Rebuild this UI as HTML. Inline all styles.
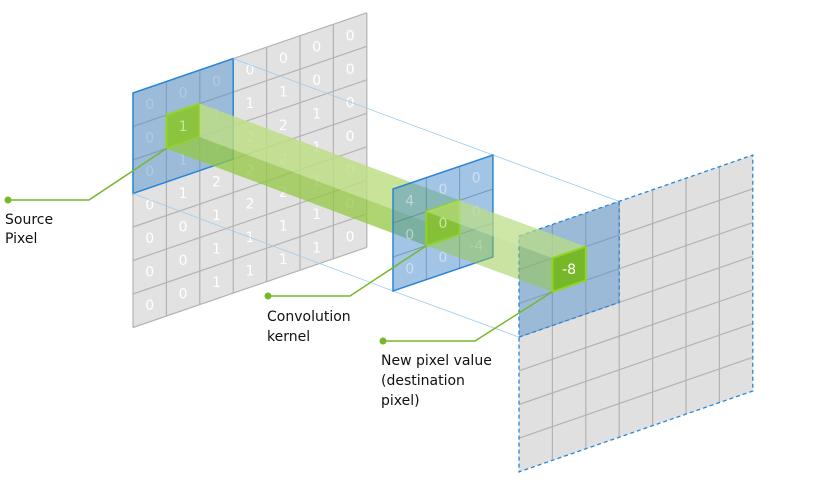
<!DOCTYPE html>
<html><head><meta charset="utf-8">
<style>
html,body{margin:0;padding:0;background:#fff;}
svg{display:block;}
.lbl{font-family:"DejaVu Sans","Liberation Sans",sans-serif;font-size:14px;fill:#111;}
.num{font-family:"DejaVu Sans","Liberation Sans",sans-serif;font-size:14px;fill:#fff;text-anchor:middle;dominant-baseline:central;}
</style></head>
<body>
<svg id="svg" width="829" height="484" viewBox="0 0 829 484" xmlns="http://www.w3.org/2000/svg">
<g id="layer"></g>
</svg>
<script>
const sourceValues = [
 [0,0,0,0,0,0,0],
 [0,1,1,1,1,0,0],
 [0,1,2,2,2,1,0],
 [0,1,2,2,2,1,0],
 [0,0,1,2,2,1,0],
 [0,0,1,1,1,1,0],
 [0,0,1,1,1,1,0]
];
const kernelValues = [
 [4,0,0],
 [0,0,0],
 [0,0,-4]
];
const destValue = -8;

const NS="http://www.w3.org/2000/svg";
const layer=document.getElementById('layer');
function el(tag,attrs,parent){const e=document.createElementNS(NS,tag);for(const k in attrs)e.setAttribute(k,attrs[k]);(parent||layer).appendChild(e);return e;}
function grid(x0,y0,w,s,h){return (c,r)=>[x0+c*w, y0+c*w*s+r*h];}
function quad(P,c0,r0,c1,r1){const a=P(c0,r0),b=P(c1,r0),c=P(c1,r1),d=P(c0,r1);return [a,b,c,d];}
function pts(arr){return arr.map(p=>p[0].toFixed(1)+','+p[1].toFixed(1)).join(' ');}

const S=grid(133,93,33.4,-0.343,33.5);
const K=grid(393,189,33.3,-0.34,34);
const D=grid(519,236,33.4,-0.346,33.7);

// Source grid
const src=el('g',{});


el('polygon',{points:pts(quad(S,0,0,7,7)),fill:'#e2e2e2'},src);
for(let i=0;i<=7;i++){const a=S(0,i),b=S(7,i);el('line',{x1:a[0],y1:a[1],x2:b[0],y2:b[1],stroke:'#b3b3b3','stroke-width':1.2},src);
 const c=S(i,0),d=S(i,7);el('line',{x1:c[0],y1:c[1],x2:d[0],y2:d[1],stroke:'#b3b3b3','stroke-width':1.2},src);}
for(let r=0;r<7;r++)for(let c=0;c<7;c++){const p=S(c+0.5,r+0.5);const t=el('text',{x:p[0],y:p[1]+1,class:'num'},src);t.textContent=sourceValues[r][c];
 }
// source blue window
const sb=el('polygon',{points:pts(quad(S,0,0,3,3)),fill:'rgba(70,140,205,0.45)',stroke:'#2a86d6','stroke-width':1.5});

const sg=el('polygon',{points:pts(quad(S,1,1,2,2)),fill:'#76b82a',stroke:'#8fd61e','stroke-width':2});

{const p=S(1.5,1.5);const t=el('text',{x:p[0],y:p[1]+1,class:'num'});t.textContent=sourceValues[1][1];}

// projection lines
function pline(a,b){el('line',{x1:a[0],y1:a[1],x2:b[0],y2:b[1],stroke:'#9ccbef','stroke-width':0.8});}
pline(S(3,0),K(3,0));pline(S(0,3),K(0,3));pline(K(3,0),D(3,0));pline(K(0,3),D(0,3));

// beam 1
const sq=quad(S,1,1,2,2), kq=quad(K,1,1,2,2), dq=quad(D,1,1,2,2);
const b1=el('g',{});
el('polygon',{points:pts([sq[0],sq[1],kq[1],kq[2],kq[3],sq[3]]),fill:'rgba(160,205,80,0.55)'},b1);
el('polygon',{points:pts([sq[1],sq[2],kq[2],kq[1]]),fill:'rgba(200,228,150,0.6)'},b1);
el('polygon',{points:pts([sq[3],sq[2],kq[2],kq[3]]),fill:'rgba(140,195,60,0.45)'},b1);

// kernel
const kg=el('g',{});
el('polygon',{points:pts(quad(K,0,0,3,3)),fill:'rgba(70,140,205,0.5)',stroke:'#2a86d6','stroke-width':1.5},kg);
for(let i=1;i<3;i++){const a=K(0,i),b=K(3,i);el('line',{x1:a[0],y1:a[1],x2:b[0],y2:b[1],stroke:'rgba(80,110,140,0.5)'},kg);
 const c=K(i,0),d=K(i,3);el('line',{x1:c[0],y1:c[1],x2:d[0],y2:d[1],stroke:'rgba(80,110,140,0.5)'},kg);}
for(let r=0;r<3;r++)for(let c=0;c<3;c++){if(r==1&&c==1)continue;const p=K(c+0.5,r+0.5);const t=el('text',{x:p[0],y:p[1]+1,class:'num','fill-opacity':0.45},kg);t.textContent=kernelValues[r][c];}
el('polygon',{points:pts(kq),fill:'#76b82a',stroke:'#8fd61e','stroke-width':2},kg);
{const p=K(1.5,1.5);const t=el('text',{x:p[0],y:p[1]+1,class:'num'},kg);t.textContent=kernelValues[1][1];}

// dest grid
const dg=el('g',{});
el('polygon',{points:pts(quad(D,0,0,7,7)),fill:'#e0e0e0'},dg);
for(let i=1;i<7;i++){const a=D(0,i),b=D(7,i);el('line',{x1:a[0],y1:a[1],x2:b[0],y2:b[1],stroke:'#b3b3b3','stroke-width':1.2},dg);
 const c=D(i,0),d=D(i,7);el('line',{x1:c[0],y1:c[1],x2:d[0],y2:d[1],stroke:'#b3b3b3','stroke-width':1.2},dg);}
el('polygon',{points:pts(quad(D,0,0,3,3)),fill:'rgba(70,140,205,0.45)'},dg);
el('polygon',{points:pts(quad(D,0,0,7,7)),fill:'none',stroke:'#2a86d6','stroke-width':1.3,'stroke-dasharray':'4,3'},dg);
el('polyline',{points:pts([D(0,3),D(3,3),D(3,0)]),fill:'none',stroke:'#2a86d6','stroke-width':1.3,'stroke-dasharray':'4,3'},dg);

// beam 2
const b2=el('polygon',{points:pts([kq[0],kq[1],dq[1],dq[2],dq[3],kq[3]]),fill:'rgba(150,200,70,0.5)'});

el('polygon',{points:pts([kq[0],kq[1],dq[1],dq[0]]),fill:'rgba(210,235,170,0.45)'});
const dgc=el('polygon',{points:pts(dq),fill:'#76b82a',stroke:'#8fd61e','stroke-width':2});

{const p=D(1.5,1.5);const t=el('text',{x:p[0],y:p[1]+1,class:'num'});t.textContent=destValue;}

// callouts
function callout(name,dot,bend,target){const g=el('g',{});
 el('polyline',{points:pts([dot,bend,target]),fill:'none',stroke:'#76b82a','stroke-width':1.5},g);
 el('circle',{cx:dot[0],cy:dot[1],r:3.5,fill:'#76b82a'},g);}
callout('source-pixel-callout',[8,200],[89,200],sq[3]);
callout('kernel-callout',[268,296],[350,296],kq[3]);
callout('destination-callout',[383,341],[475,341],dq[3]);
</script>
<svg width="0" height="0" style="position:absolute"></svg>
<div style="position:absolute;left:0;top:0;width:829px;height:484px;pointer-events:none;">
<svg width="829" height="484" style="position:absolute;left:0;top:0">
<text class="lbl" x="5" y="224"><tspan x="5">Source</tspan><tspan x="5" dy="19">Pixel</tspan></text>
<text class="lbl" x="267" y="321"><tspan x="267">Convolution</tspan><tspan x="267" dy="20">kernel</tspan></text>
<text class="lbl" x="381" y="365"><tspan x="381">New pixel value</tspan><tspan x="381" dy="20">(destination</tspan><tspan x="381" dy="20">pixel)</tspan></text>
</svg></div>
</body></html>
